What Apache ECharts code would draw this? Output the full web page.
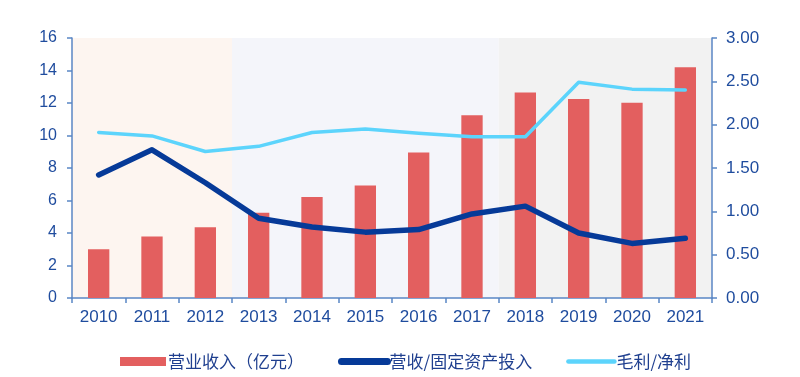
<!DOCTYPE html>
<html>
<head>
<meta charset="utf-8">
<script src="https://cdn.jsdelivr.net/npm/echarts@6/dist/echarts.min.js"></script>
<style>
html, body { margin: 0; padding: 0; background: #fff; }
#main { width: 800px; height: 377px; }
</style>
</head>
<body>
<div id="main"></div>
<script>
// 年份
var years = ['2010', '2011', '2012', '2013', '2014', '2015', '2016', '2017', '2018', '2019', '2020', '2021'];
// 营业收入（亿元）
var revenue = [3.0, 3.78, 4.35, 5.25, 6.22, 6.93, 8.95, 11.25, 12.65, 12.25, 12.02, 14.2];
// 营收/固定资产投入
var revToAsset = [1.42, 1.71, 1.33, 0.92, 0.82, 0.76, 0.79, 0.97, 1.06, 0.75, 0.63, 0.69];
// 毛利/净利
var grossToNet = [1.91, 1.87, 1.69, 1.75, 1.91, 1.95, 1.90, 1.86, 1.86, 2.49, 2.41, 2.40];
// 背景分段: [起始年序号, 结束年序号, 颜色]
var bands = [[0, 2, '#fdf5f0'], [3, 7, '#f4f5fa'], [8, 11, '#f2f2f2']];

var labelColor = '#1f4c9e';
var axisColor = '#5a86c5';
var darkBlue = '#063a98';
var lightBlue = '#5cd4fc';

var myChart = echarts.init(document.getElementById('main'));

var option = {
    animation: false,
    grid: { left: 72, right: 88, top: 38, bottom: 79 },
    legend: {
        left: 115,
        top: 348,
        itemGap: 34,
        itemWidth: 46,
        itemHeight: 9,
        textStyle: { color: '#1f3f8f', fontSize: 17, fontFamily: '"Noto Sans CJK SC", sans-serif', padding: [0, 0, 0, -3] },
        data: [
            { name: '营业收入（亿元）', icon: 'rect' },
            {
                name: '营收/固定资产投入',
                itemStyle: { color: 'rgba(0,0,0,0)', borderWidth: 0 },
                lineStyle: { color: darkBlue, width: 7, cap: 'round' }
            },
            {
                name: '毛利/净利',
                itemStyle: { color: 'rgba(0,0,0,0)', borderWidth: 0 },
                lineStyle: { color: lightBlue, width: 4.5, cap: 'round' }
            }
        ]
    },
    xAxis: {
        type: 'category',
        data: years,
        axisLine: { lineStyle: { color: axisColor, width: 1.5 } },
        axisTick: { show: true, length: 5, lineStyle: { color: axisColor, width: 1.5 } },
        axisLabel: { color: labelColor, fontSize: 17, fontFamily: 'Liberation Sans, Arial', margin: 11 }
    },
    yAxis: [
        {
            type: 'value', min: 0, max: 16, interval: 2,
            splitLine: { show: false },
            axisLine: { show: true, lineStyle: { color: axisColor, width: 1.5 } },
            axisTick: { show: true, length: 5, lineStyle: { color: axisColor, width: 1.5 } },
            axisLabel: { color: labelColor, fontSize: 16, fontFamily: 'Liberation Sans, Arial', margin: 15 }
        },
        {
            type: 'value', min: 0, max: 3, interval: 0.5,
            splitLine: { show: false },
            axisLine: { show: true, lineStyle: { color: axisColor, width: 1.5 } },
            axisTick: { show: true, length: 5, lineStyle: { color: axisColor, width: 1.5 } },
            axisLabel: {
                color: labelColor, fontSize: 17, fontFamily: 'Liberation Sans, Arial', margin: 14,
                formatter: function(v) { return v.toFixed(2); }
            }
        }
    ],
    series: [
        {
            type: 'custom',
            name: 'bands',
            silent: true,
            z: 0,
            encode: { x: [0, 1] },
            data: bands,
            renderItem: function(params, api) {
                var w = api.size([1, 0])[0];
                var p0 = api.coord([api.value(0), 0]);
                var p1 = api.coord([api.value(1), 0]);
                var cs = params.coordSys;
                return {
                    type: 'rect',
                    shape: { x: p0[0] - w / 2, y: cs.y, width: p1[0] - p0[0] + w, height: cs.height },
                    style: { fill: bands[params.dataIndex][2] }
                };
            }
        },
        {
            name: '营业收入（亿元）',
            type: 'bar',
            z: 2,
            barWidth: '40%',
            itemStyle: { color: '#e35f5f' },
            data: revenue
        },
        {
            name: '营收/固定资产投入',
            type: 'line',
            yAxisIndex: 1,
            z: 3,
            symbol: 'none',
            lineStyle: { color: darkBlue, width: 5.5, cap: 'round', join: 'round' },
            itemStyle: { color: darkBlue },
            data: revToAsset
        },
        {
            name: '毛利/净利',
            type: 'line',
            yAxisIndex: 1,
            z: 3,
            symbol: 'none',
            lineStyle: { color: lightBlue, width: 3.5, cap: 'round', join: 'round' },
            itemStyle: { color: lightBlue },
            data: grossToNet
        }
    ]
};
myChart.setOption(option);
</script>
</body>
</html>
